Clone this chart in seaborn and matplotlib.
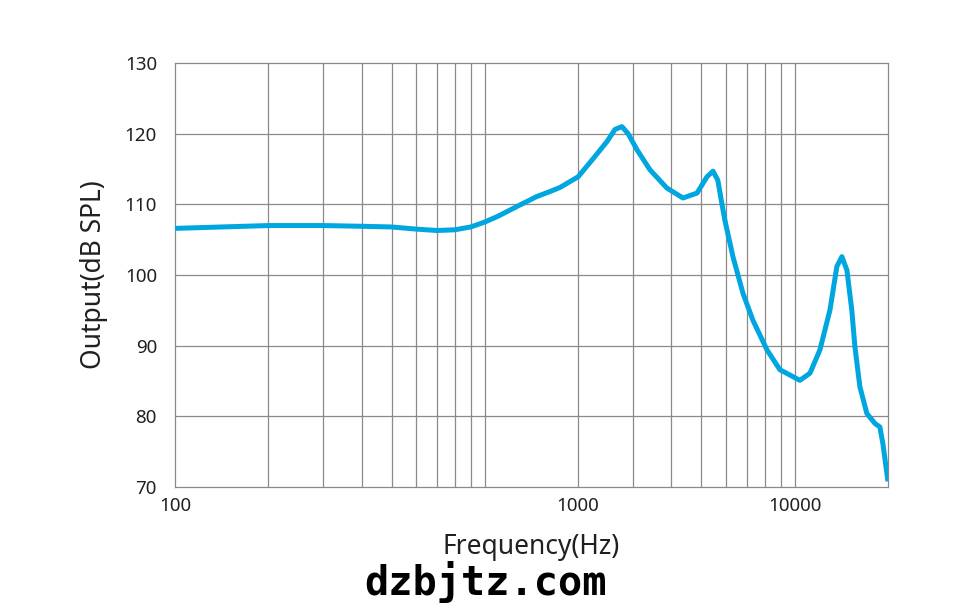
import matplotlib
matplotlib.use('Agg')
import matplotlib.pyplot as plt
import seaborn as sns

# Frequency response values (Hz, dB SPL)
freq_hz = [100, 200, 300, 400, 500, 600, 700, 800, 900, 1000,
           1100, 1270, 1470, 1620, 1750, 2000, 2230, 2480, 2630, 2770,
           2900, 3100, 3410, 3870, 4360, 4840, 5210, 5450, 5650, 5820,
           5950, 6320, 6810, 7330, 8140, 8960, 10390, 11200, 12060, 12990,
           13680, 14200, 14740, 15290, 15640, 16230, 17100, 18150, 18830, 19250,
           20000]
output_db = [106.6, 107.0, 107.0, 106.9, 106.8, 106.5, 106.3, 106.4, 106.8, 107.5,
             108.3, 109.7, 111.1, 111.8, 112.4, 113.9, 116.4, 118.9, 120.6, 121.0,
             120.0, 117.7, 114.9, 112.3, 110.9, 111.6, 113.9, 114.7, 113.4, 110.1,
             107.8, 102.6, 97.4, 93.6, 89.4, 86.6, 85.1, 86.1, 89.4, 95.0,
             101.2, 102.6, 100.7, 95.0, 89.9, 84.2, 80.4, 79.0, 78.5, 76.2,
             70.8]

# Gridlines and tick labels (the reference puts its "1000" label on the 2 kHz line)
x_grid = [200, 300, 400, 500, 600, 700, 800, 900, 1000,
          2000, 3000, 4000, 5000, 6000, 7000, 8000, 9000, 10000]
x_tick_pos = [100, 2000, 10000]
x_tick_labels = ['100', '1000', '10000']
y_ticks = [70, 80, 90, 100, 110, 120, 130]

sns.set_style('white')
plt.rcParams['font.family'] = ['Noto Sans', 'DejaVu Sans']

fig = plt.figure(figsize=(9.76, 6.13), dpi=100)
ax = fig.add_axes([0.1793, 0.2055, 0.9098 - 0.1793, 0.8972 - 0.2055])

grid_col = '#8a8a8a'
text_col = '#231f20'
for f in x_grid:
    ax.axvline(f, color=grid_col, lw=0.9, zorder=1)
for v in y_ticks[1:-1]:
    ax.axhline(v, color=grid_col, lw=0.9, zorder=1)

sns.lineplot(x=freq_hz, y=output_db, ax=ax, color='#00a6e0', linewidth=3.6,
             zorder=3)
for line in ax.lines:
    line.set_solid_capstyle('butt')
    line.set_solid_joinstyle('round')

ax.set_xscale('log')
ax.set_xlim(100, 20000)
ax.set_ylim(70, 130)
ax.set_xticks(x_tick_pos)
ax.set_xticklabels(x_tick_labels)
ax.xaxis.set_minor_locator(matplotlib.ticker.NullLocator())
ax.set_yticks(y_ticks)
ax.tick_params(axis='both', length=0, labelsize=13.5, colors=text_col)
ax.tick_params(axis='y', pad=13)
ax.tick_params(axis='x', pad=7)

for s in ax.spines.values():
    s.set_visible(True)
    s.set_color(grid_col)
    s.set_linewidth(0.9)

ax.set_xlabel('Frequency(Hz)', fontsize=19, color=text_col, labelpad=13)
ax.set_ylabel('Output(dB SPL)', fontsize=19, color=text_col, labelpad=12)

fig.text(0.497, 0.029, 'dzbjtz.com', ha='center', va='baseline',
         fontsize=29, fontweight='bold', family='DejaVu Sans Mono', color='black')

plt.savefig('out.png', dpi=100)
